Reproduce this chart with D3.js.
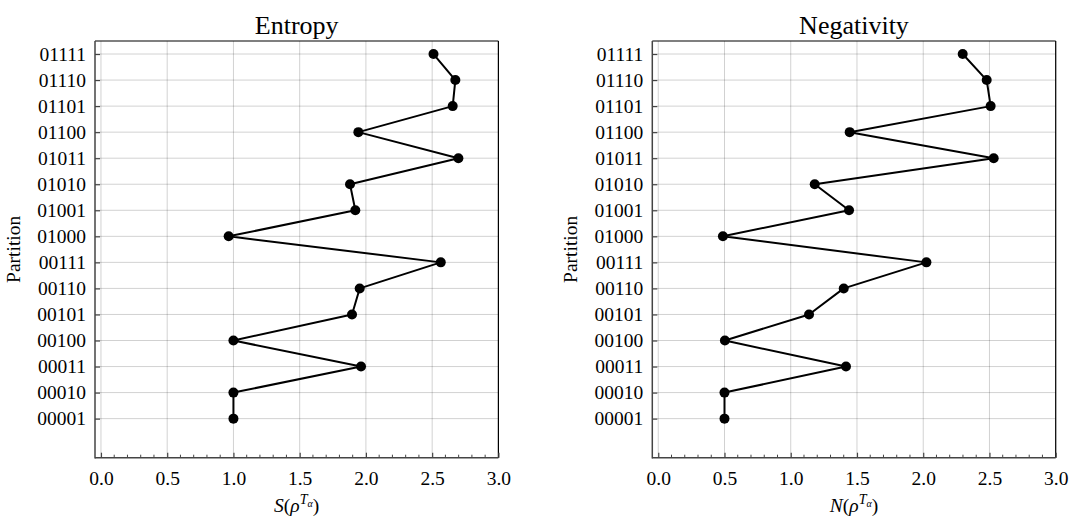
<!DOCTYPE html>
<html>
<head>
<meta charset="utf-8">
<script src="https://cdn.jsdelivr.net/npm/d3@7"></script>
<style>
  html, body { margin: 0; padding: 0; background: #fff; }
  svg { display: block; }
  svg text { font-family: "Liberation Serif", "DejaVu Serif", serif !important; fill: #000; }
</style>
</head>
<body>
<svg id="chart" width="1088" height="523"></svg>
<script>
// ---- data ----
const partitions = ["01111","01110","01101","01100","01011","01010","01001","01000",
                    "00111","00110","00101","00100","00011","00010","00001"];
const entropyValues = [2.51, 2.675, 2.655, 1.943, 2.698, 1.88, 1.92, 0.964,
                       2.565, 1.953, 1.895, 1.0, 1.963, 1.0, 1.0];
const negativityValues = [2.298, 2.479, 2.509, 1.445, 2.532, 1.181, 1.44, 0.488,
                          2.024, 1.40, 1.138, 0.503, 1.417, 0.5, 0.5];
const xTicks = [0.0, 0.5, 1.0, 1.5, 2.0, 2.5, 3.0];
const panelTitles = ["Entropy", "Negativity"];
const xLabelLetters = ["S", "N"];
const yLabel = "Partition";

// ---- layout ----
const svg = d3.select("#chart");
const panels = [
  { left: 95, title: panelTitles[0], values: entropyValues, letter: xLabelLetters[0] },
  { left: 652.3, title: panelTitles[1], values: negativityValues, letter: xLabelLetters[1] }
];
const plotW = 403.4, plotTop = 41, plotBottom = 457.7;
const serif = "'Liberation Serif', 'DejaVu Serif', serif";

panels.forEach(p => {
  const g = svg.append("g");
  const x = d3.scaleLinear().domain([-0.045, 3.0]).range([p.left, p.left + plotW]);
  const n = partitions.length;
  const y = d3.scaleLinear().domain([-1.5, n - 0.5]).range([plotBottom, plotTop]);
  const yPos = i => y(n - 1 - i);

  // grid
  g.append("g").selectAll("line").data(xTicks).join("line")
    .attr("x1", d => x(d)).attr("x2", d => x(d))
    .attr("y1", plotTop).attr("y2", plotBottom)
    .attr("stroke", "#000").attr("stroke-opacity", 0.18).attr("stroke-width", 1);
  g.append("g").selectAll("line").data(partitions).join("line")
    .attr("x1", p.left).attr("x2", p.left + plotW)
    .attr("y1", (d, i) => yPos(i)).attr("y2", (d, i) => yPos(i))
    .attr("stroke", "#000").attr("stroke-opacity", 0.18).attr("stroke-width", 1);

  // frame top/right
  g.append("line").attr("x1", p.left).attr("x2", p.left + plotW).attr("y1", plotTop).attr("y2", plotTop)
    .attr("stroke", "#000").attr("stroke-width", 1.2);
  g.append("line").attr("x1", p.left + plotW).attr("x2", p.left + plotW).attr("y1", plotTop).attr("y2", plotBottom)
    .attr("stroke", "#000").attr("stroke-width", 1.2);

  // x axis (ticks inward)
  const xAxis = d3.axisBottom(x).tickValues(xTicks).tickFormat(d3.format(".1f"))
    .tickSizeInner(-5).tickSizeOuter(0).tickPadding(13);
  const xa = g.append("g").attr("transform", `translate(0,${plotBottom})`).call(xAxis)
    .attr("font-family", serif).attr("font-size", 19.5);
  xa.select(".domain").remove();
  xa.selectAll(".tick line").attr("stroke", "#444").attr("stroke-width", 1.2);
  xa.selectAll(".tick text").style("font-family", serif).style("font-size", "19.5px").attr("fill", "#000");
  // minor ticks
  const minor = d3.range(0, 31).map(v => v / 10).filter(v => Math.abs(v * 2 - Math.round(v * 2)) > 1e-6);
  g.append("g").selectAll("line").data(minor).join("line")
    .attr("x1", d => x(d)).attr("x2", d => x(d))
    .attr("y1", plotBottom).attr("y2", plotBottom - 3)
    .attr("stroke", "#444").attr("stroke-width", 1);

  // y axis
  const yAxis = d3.axisLeft(d3.scalePoint().domain(partitions).range([yPos(0), yPos(n - 1)]))
    .tickSizeInner(-5).tickSizeOuter(0).tickPadding(9);
  const ya = g.append("g").attr("transform", `translate(${p.left},0)`).call(yAxis)
    .attr("font-family", serif).attr("font-size", 19.5);
  ya.select(".domain").remove();
  ya.selectAll(".tick line").attr("stroke", "#444").attr("stroke-width", 1.2);
  ya.selectAll(".tick text").style("font-family", serif).style("font-size", "19.5px").attr("fill", "#000");

  // left/bottom spines
  g.append("line").attr("x1", p.left).attr("x2", p.left).attr("y1", plotTop).attr("y2", plotBottom + 0.7)
    .attr("stroke", "#444").attr("stroke-width", 1.5);
  g.append("line").attr("x1", p.left).attr("x2", p.left + plotW).attr("y1", plotBottom).attr("y2", plotBottom)
    .attr("stroke", "#444").attr("stroke-width", 1.5);

  // data line
  const line = d3.line().x(d => x(d)).y((d, i) => yPos(i));
  g.append("path").datum(p.values).attr("d", line)
    .attr("fill", "none").attr("stroke", "#000").attr("stroke-width", 2).attr("stroke-linejoin", "round");
  g.append("g").selectAll("circle").data(p.values).join("circle")
    .attr("cx", d => x(d)).attr("cy", (d, i) => yPos(i)).attr("r", 5).attr("fill", "#000");

  // title
  g.append("text").attr("x", p.left + plotW / 2).attr("y", 34).attr("text-anchor", "middle")
    .style("font-size", "26px").text(p.title);

  // x label
  const xl = g.append("text").attr("x", p.left + plotW / 2).attr("y", 512).attr("text-anchor", "middle")
    .style("font-size", "19.5px");
  xl.append("tspan").attr("font-style", "italic").text(p.letter);
  xl.append("tspan").text("(");
  xl.append("tspan").attr("font-style", "italic").text("ρ");
  xl.append("tspan").attr("font-style", "italic").style("font-size", "14px").attr("dy", -8).text("T");
  xl.append("tspan").attr("font-style", "italic").style("font-size", "10px").attr("dy", 3).text("α");
  xl.append("tspan").attr("dy", 5).text(")");

  // y label
  g.append("text").attr("transform", `translate(${p.left - 75},${(plotTop + plotBottom) / 2}) rotate(-90)`)
    .attr("text-anchor", "middle").style("font-size", "19.5px").text(yLabel);
});
</script>
</body>
</html>
